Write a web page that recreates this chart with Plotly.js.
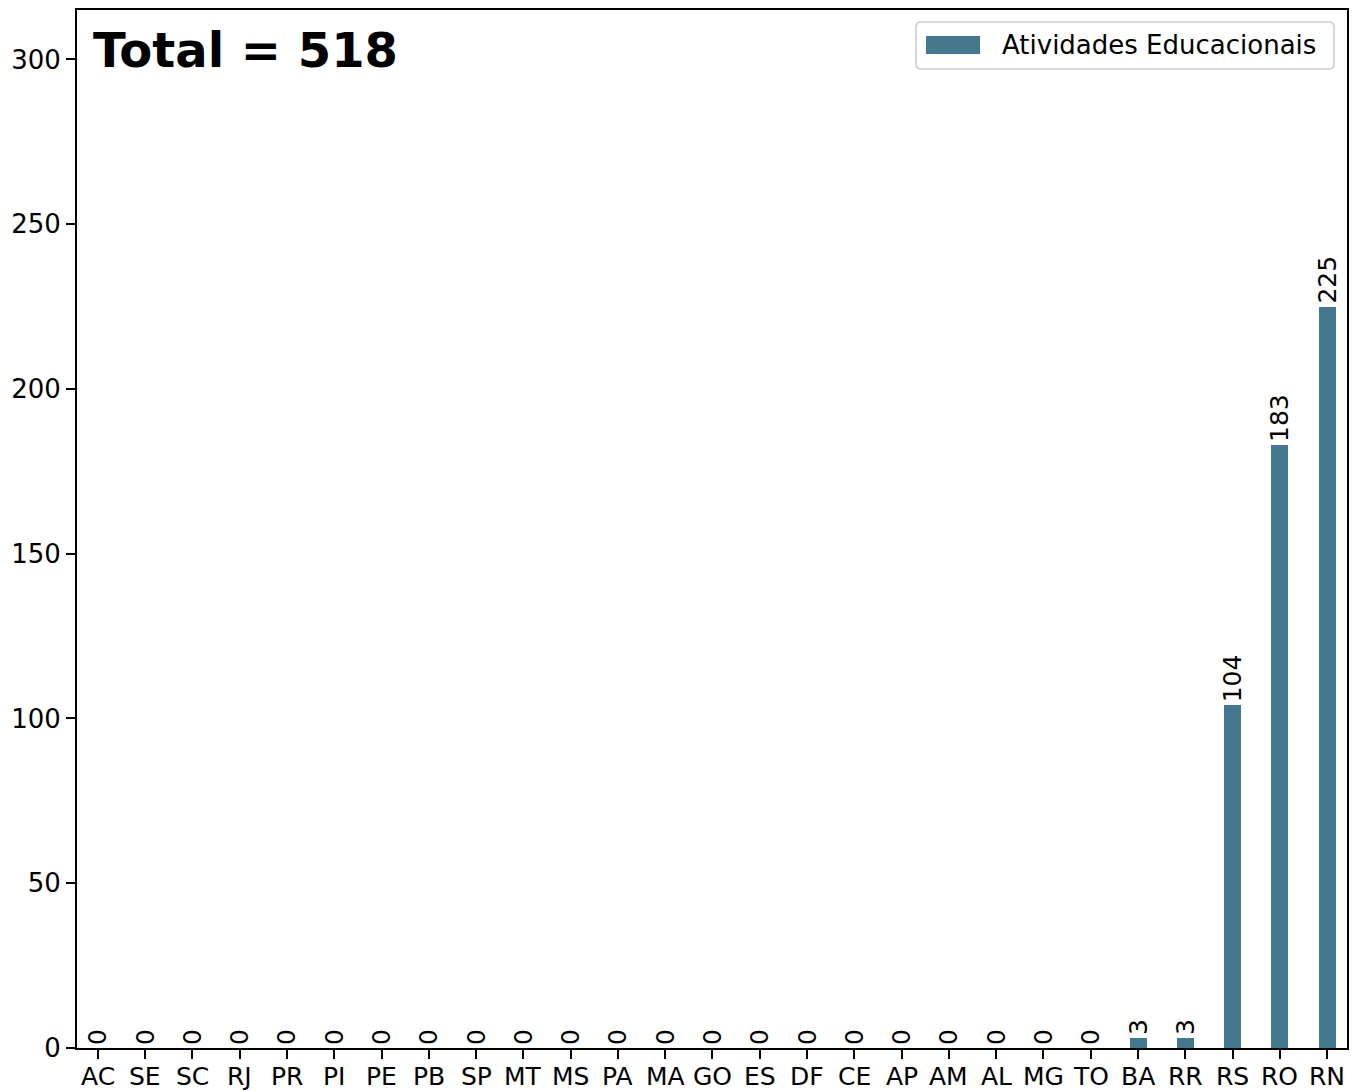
<!DOCTYPE html>
<html>
<head>
<meta charset="utf-8">
<script src="https://cdn.plot.ly/plotly-3.0.1.min.js"></script>
<style>
  html, body { margin: 0; padding: 0; background: #ffffff; }
  #chart { width: 1354px; height: 1091px; }
</style>
</head>
<body>
<div id="chart"></div>
<script>
// ---- data ----
const states = ['AC','SE','SC','RJ','PR','PI','PE','PB','SP','MT','MS','PA','MA','GO','ES','DF','CE','AP','AM','AL','MG','TO','BA','RR','RS','RO','RN'];
const values = [0,0,0,0,0,0,0,0,0,0,0,0,0,0,0,0,0,0,0,0,0,0,3,3,104,183,225];
const seriesName = 'Atividades Educacionais';
const yTickVals = [0,50,100,150,200,250,300];

// ---- layout helpers ----
const W = 1354, H = 1091;
const M = {l: 77, r: 7, t: 10, b: 43};
const plotW = W - M.l - M.r, plotH = H - M.t - M.b;
const px = x => (x - M.l) / plotW;          // pixel -> paper x
const py = y => (M.t + plotH - y) / plotH;  // pixel -> paper y

const barColor = '#45778f';
const font = 'DejaVu Sans, Liberation Sans, sans-serif';
const total = values.reduce((a, b) => a + b, 0);

const trace = {
  type: 'bar',
  x: states,
  y: values,
  width: 0.36,
  marker: {color: barColor, line: {width: 0}},
  text: values.map(v => String(v)),
  textposition: 'outside',
  textangle: -90,
  textfont: {family: font, size: 25, color: '#000000'},
  constraintext: 'none',
  cliponaxis: false,
  showlegend: false,
  hoverinfo: 'x+y'
};

// rounded legend frame path (pixel coords -> paper)
function roundedRect(x0, y0, x1, y1, r) {
  const pts = [
    `M ${px(x0 + r)} ${py(y0)}`,
    `L ${px(x1 - r)} ${py(y0)}`,
    `Q ${px(x1)} ${py(y0)} ${px(x1)} ${py(y0 + r)}`,
    `L ${px(x1)} ${py(y1 - r)}`,
    `Q ${px(x1)} ${py(y1)} ${px(x1 - r)} ${py(y1)}`,
    `L ${px(x0 + r)} ${py(y1)}`,
    `Q ${px(x0)} ${py(y1)} ${px(x0)} ${py(y1 - r)}`,
    `L ${px(x0)} ${py(y0 + r)}`,
    `Q ${px(x0)} ${py(y0)} ${px(x0 + r)} ${py(y0)}`,
    'Z'
  ];
  return pts.join(' ');
}

const axisCommon = {
  showline: true,
  linecolor: '#000000',
  linewidth: 2,
  mirror: true,
  ticks: 'outside',
  ticklen: 9,
  tickwidth: 2,
  tickcolor: '#000000',
  showgrid: false,
  zeroline: false,
  automargin: false,
  tickfont: {family: font, size: 26, color: '#000000'}
};

// x tick labels drawn as annotations on the category axis
const xLabelAnn = states.map(s => ({
  xref: 'x', yref: 'paper',
  x: s, y: py(1076),
  xanchor: 'center', yanchor: 'middle',
  height: 28,
  text: s,
  showarrow: false,
  font: {family: font, size: 25, color: '#000000'}
}));

const layout = {
  width: W,
  height: H,
  margin: {l: M.l, r: M.r, t: M.t, b: M.b, pad: 0},
  paper_bgcolor: '#ffffff',
  plot_bgcolor: '#ffffff',
  font: {family: font, color: '#000000'},
  showlegend: false,
  bargap: 0,
  xaxis: Object.assign({}, axisCommon, {
    type: 'category',
    range: [-0.44, 26.42],
    showticklabels: false
  }),
  yaxis: Object.assign({}, axisCommon, {
    range: [0, 315],
    tickmode: 'array',
    tickvals: yTickVals,
    ticktext: yTickVals.map(String)
  }),
  shapes: [
    {
      type: 'path', xref: 'paper', yref: 'paper',
      path: roundedRect(916, 22, 1334, 69, 5),
      fillcolor: 'rgba(255,255,255,0.8)',
      line: {color: '#cccccc', width: 1.5}
    },
    {
      type: 'rect', xref: 'paper', yref: 'paper',
      x0: px(926), x1: px(980), y0: py(36), y1: py(54),
      fillcolor: barColor, line: {width: 0}
    }
  ],
  annotations: [
    {
      xref: 'paper', yref: 'paper',
      x: px(91), y: py(50),
      xanchor: 'left', yanchor: 'middle',
      text: '<b>Total = ' + total + '</b>',
      showarrow: false,
      font: {family: font, size: 48, color: '#000000'}
    },
    {
      xref: 'paper', yref: 'paper',
      x: px(1000), y: py(45),
      xanchor: 'left', yanchor: 'middle',
      text: seriesName,
      showarrow: false,
      font: {family: font, size: 26, color: '#000000'}
    }
  ].concat(xLabelAnn)
};

Plotly.newPlot('chart', [trace], layout, {displayModeBar: false, staticPlot: true});
</script>
</body>
</html>
